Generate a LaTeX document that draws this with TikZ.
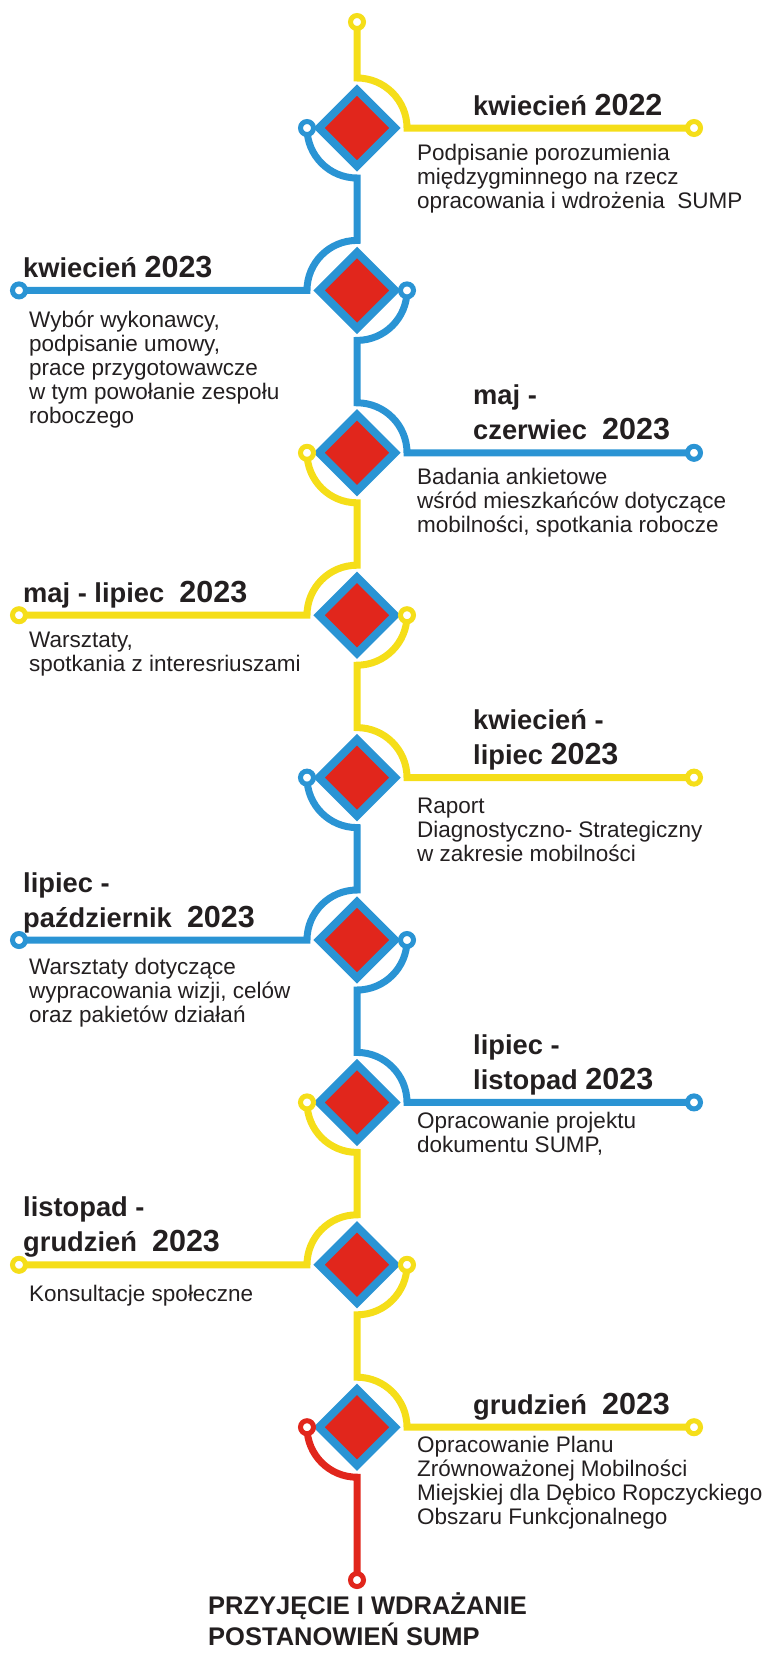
\documentclass[tikz,border=0pt]{standalone}
\usepackage{fontspec}
\setmainfont{Liberation Sans}
\usetikzlibrary{shapes.geometric,backgrounds,calc}
\definecolor{yel}{HTML}{F5DE19}
\definecolor{blu}{HTML}{2A94D4}
\definecolor{rd}{HTML}{E1261C}
\definecolor{txt}{HTML}{231F20}
\newcommand\mofont{\fontsize{27.3}{35}\selectfont\bfseries}
\newcommand\yrfont{\fontsize{30.5}{35}\selectfont\bfseries}
\begin{document}
\begin{tikzpicture}[x=1pt,y=1pt,
  ln/.style={line width=7pt},
  endpt/.style={circle,draw=#1,fill=white,line width=5pt,minimum size=13pt,inner sep=0pt,outer sep=0pt},
  dia/.style={diamond,draw=blu,fill=rd,line width=8pt,minimum width=76pt,minimum height=76pt,inner sep=0pt,outer sep=0pt},
  ttl/.style={anchor=base west,align=left,text=txt,inner sep=0pt,font=\mofont},
  bdy/.style={anchor=base west,align=left,text=txt,inner sep=0pt,font=\fontsize{22.5}{24}\selectfont},
  fin/.style={anchor=base west,align=left,text=txt,inner sep=0pt,font=\fontsize{25.5}{31}\selectfont\bfseries},
]
\useasboundingbox (0,0) rectangle (766,-1657);
% end points
\node[endpt=yel] (top) at (357,-22) {};
\node[endpt=rd] (fin) at (357,-1580) {};
% diamonds
\node[dia] (d1) at (357,-128) {};
\node[dia] (d2) at (357,-290.4) {};
\node[dia] (d3) at (357,-452.8) {};
\node[dia] (d4) at (357,-615.2) {};
\node[dia] (d5) at (357,-777.6) {};
\node[dia] (d6) at (357,-940) {};
\node[dia] (d7) at (357,-1102.4) {};
\node[dia] (d8) at (357,-1264.8) {};
\node[dia] (d9) at (357,-1427.2) {};
% branch end circles
\node[endpt=yel] (e1) at (694,-128) {};
\node[endpt=blu] (e2) at (19,-290.4) {};
\node[endpt=blu] (e3) at (694,-452.8) {};
\node[endpt=yel] (e4) at (19,-615.2) {};
\node[endpt=yel] (e5) at (694,-777.6) {};
\node[endpt=blu] (e6) at (19,-940) {};
\node[endpt=blu] (e7) at (694,-1102.4) {};
\node[endpt=yel] (e8) at (19,-1264.8) {};
\node[endpt=yel] (e9) at (694,-1427.2) {};
% outgoing small circles
\node[endpt=blu] (o1) at (307,-128) {};
\node[endpt=blu] (o2) at (407,-290.4) {};
\node[endpt=yel] (o3) at (307,-452.8) {};
\node[endpt=yel] (o4) at (407,-615.2) {};
\node[endpt=blu] (o5) at (307,-777.6) {};
\node[endpt=blu] (o6) at (407,-940) {};
\node[endpt=yel] (o7) at (307,-1102.4) {};
\node[endpt=yel] (o8) at (407,-1264.8) {};
\node[endpt=rd] (o9) at (307,-1427.2) {};
% connectors
\begin{pgfonlayer}{background}
\draw[ln,yel] (top) -- ($(d1)+(0,50)$) arc(90:0:50) -- (e1);
\draw[ln,blu] (o1.center) arc(180:270:50) -- ($(d2)+(0,50)$) arc(90:180:50) -- (e2);
\draw[ln,blu] (o2.center) arc(0:-90:50) -- ($(d3)+(0,50)$) arc(90:0:50) -- (e3);
\draw[ln,yel] (o3.center) arc(180:270:50) -- ($(d4)+(0,50)$) arc(90:180:50) -- (e4);
\draw[ln,yel] (o4.center) arc(0:-90:50) -- ($(d5)+(0,50)$) arc(90:0:50) -- (e5);
\draw[ln,blu] (o5.center) arc(180:270:50) -- ($(d6)+(0,50)$) arc(90:180:50) -- (e6);
\draw[ln,blu] (o6.center) arc(0:-90:50) -- ($(d7)+(0,50)$) arc(90:0:50) -- (e7);
\draw[ln,yel] (o7.center) arc(180:270:50) -- ($(d8)+(0,50)$) arc(90:180:50) -- (e8);
\draw[ln,yel] (o8.center) arc(0:-90:50) -- ($(d9)+(0,50)$) arc(90:0:50) -- (e9);
\draw[ln,rd] (o9.center) arc(180:270:50) -- (fin);
\end{pgfonlayer}
% texts (anchor = baseline of last line)
\node[ttl] (t1) at (473,-115) {kwiecień {\yrfont 2022}};
\node[bdy] (b1) at (417,-208) {Podpisanie porozumienia\\międzygminnego na rzecz\\opracowania i wdrożenia\ \ SUMP};
\node[ttl] (t2) at (23,-277.4) {kwiecień {\yrfont 2023}};
\node[bdy] (b2) at (29,-423) {Wybór wykonawcy,\\podpisanie umowy,\\prace przygotowawcze\\w tym powołanie zespołu\\roboczego};
\node[ttl] (t3) at (473,-439.8) {maj -\\czerwiec\ \ {\yrfont 2023}};
\node[bdy] (b3) at (417,-532) {Badania ankietowe\\wśród mieszkańców dotyczące\\mobilności, spotkania robocze};
\node[ttl] (t4) at (23,-602.2) {maj - lipiec\ \ {\yrfont 2023}};
\node[bdy] (b4) at (29,-671) {Warsztaty,\\spotkania z interesriuszami};
\node[ttl] (t5) at (473,-764.6) {kwiecień -\\lipiec {\yrfont 2023}};
\node[bdy] (b5) at (417,-861.6) {Raport\\Diagnostyczno- Strategiczny\\w zakresie mobilności};
\node[ttl] (t6) at (23,-927) {lipiec -\\październik\ \ {\yrfont 2023}};
\node[bdy] (b6) at (29,-1022) {Warsztaty dotyczące\\wypracowania wizji, celów\\oraz pakietów działań};
\node[ttl] (t7) at (473,-1089.4) {lipiec -\\listopad {\yrfont 2023}};
\node[bdy] (b7) at (417,-1152) {Opracowanie projektu\\dokumentu SUMP,};
\node[ttl] (t8) at (23,-1251.8) {listopad -\\grudzień\ \ {\yrfont 2023}};
\node[bdy] (b8) at (29,-1301) {Konsultacje społeczne};
\node[ttl] (t9) at (473,-1414.2) {grudzień\ \ {\yrfont 2023}};
\node[bdy] (b9) at (417,-1524) {Opracowanie Planu\\Zrównoważonej Mobilności\\Miejskiej dla Dębico Ropczyckiego\\Obszaru Funkcjonalnego};
\node[fin] (tf) at (208,-1645) {PRZYJĘCIE I WDRAŻANIE\\POSTANOWIEŃ SUMP};
\end{tikzpicture}
\end{document}
